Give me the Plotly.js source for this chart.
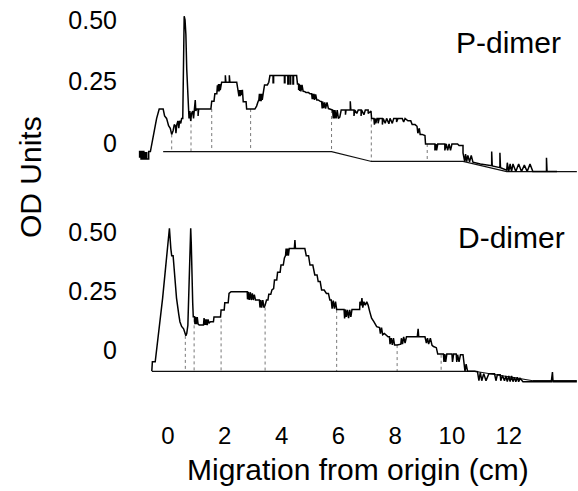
<!DOCTYPE html>
<html>
<head>
<meta charset="utf-8">
<script src="https://cdn.plot.ly/plotly-3.0.1.min.js"></script>
<style>html,body{margin:0;padding:0;background:#fff;}#chart{width:578px;height:491px;}</style>
</head>
<body>
<div id="chart"></div>
<script>
// ---------- DATA ----------
// x = migration from origin (cm), y = OD units
const pDimerTrace = [
 [-1.0,-0.06],[-1.0,-0.035],[-0.95,-0.035],[-0.95,-0.065],[-0.9,-0.065],[-0.9,-0.035],[-0.85,-0.035],[-0.85,-0.065],
 [-0.8,-0.065],[-0.8,-0.04],[-0.75,-0.04],[-0.75,-0.065],[-0.68,-0.065],[-0.68,-0.035],[-0.62,-0.035],
 [-0.57,0.0],[-0.45,0.07],[-0.40,0.10],[-0.33,0.13],[-0.31,0.138],[-0.17,0.138],[-0.12,0.11],[-0.05,0.10],
 [0.02,0.07],[0.08,0.06],[0.13,0.035],[0.18,0.05],[0.22,0.075],[0.26,0.07],[0.28,0.04],[0.31,0.075],[0.35,0.09],
 [0.38,0.06],[0.41,0.09],[0.45,0.08],[0.48,0.10],[0.52,0.10],[0.57,0.515],[0.60,0.50],[0.63,0.44],[0.66,0.30],
 [0.69,0.20],[0.72,0.16],[0.74,0.10],[0.77,0.13],[0.80,0.09],[0.83,0.12],[0.87,0.13],[0.90,0.10],[0.92,0.13],
 [0.96,0.175],[0.98,0.13],[1.01,0.138],[1.06,0.138],[1.06,0.11],[1.08,0.11],[1.08,0.138],[1.51,0.138],
 [1.54,0.17],[1.62,0.17],[1.65,0.20],[1.72,0.20],[1.74,0.235],[1.76,0.21],[1.78,0.24],[1.80,0.21],[1.82,0.24],
 [1.84,0.215],[1.86,0.24],[1.89,0.247],[2.02,0.247],[2.02,0.275],[2.04,0.275],[2.04,0.247],[2.16,0.247],
 [2.16,0.275],[2.18,0.275],[2.18,0.247],[2.42,0.247],[2.45,0.22],[2.48,0.216],[2.50,0.19],[2.52,0.215],
 [2.54,0.19],[2.57,0.215],[2.60,0.195],[2.62,0.216],[2.65,0.168],[2.75,0.168],[2.77,0.138],[3.06,0.138],
 [3.12,0.15],[3.17,0.168],[3.20,0.175],[3.22,0.20],[3.24,0.17],[3.26,0.20],[3.28,0.17],[3.30,0.20],[3.32,0.175],
 [3.35,0.20],[3.40,0.236],[3.50,0.236],[3.55,0.247],[3.59,0.274],[3.70,0.274],[3.70,0.245],[3.72,0.245],
 [3.72,0.274],[4.10,0.274],[4.10,0.245],[4.12,0.245],[4.12,0.274],[4.22,0.274],[4.22,0.24],[4.24,0.24],
 [4.24,0.274],[4.30,0.274],[4.30,0.24],[4.32,0.24],[4.32,0.274],[4.40,0.274],[4.40,0.24],[4.42,0.24],
 [4.42,0.274],[4.53,0.274],[4.56,0.24],[4.60,0.24],[4.60,0.215],[4.62,0.24],[4.64,0.212],[4.66,0.236],
 [4.68,0.21],[4.72,0.236],[4.76,0.21],[4.82,0.209],[4.86,0.205],[4.95,0.205],[5.0,0.20],[5.06,0.20],
 [5.08,0.178],[5.10,0.20],[5.12,0.178],[5.14,0.20],[5.16,0.175],[5.20,0.198],[5.24,0.175],[5.29,0.175],
 [5.35,0.17],[5.41,0.168],[5.43,0.14],[5.45,0.168],[5.48,0.142],[5.52,0.165],[5.55,0.14],[5.60,0.165],
 [5.65,0.14],[5.72,0.138],[5.76,0.134],[5.80,0.134],[5.82,0.10],[5.84,0.134],[5.86,0.10],[5.88,0.134],
 [5.92,0.10],[5.96,0.134],[6.00,0.10],[6.05,0.105],[6.10,0.134],[6.25,0.134],[6.25,0.115],[6.27,0.134],
 [6.42,0.134],[6.42,0.17],[6.44,0.134],[6.55,0.134],[6.55,0.11],[6.58,0.134],[6.65,0.12],[6.70,0.134],
 [6.80,0.134],[6.80,0.11],[6.82,0.134],[6.90,0.115],[6.95,0.134],[7.05,0.134],[7.05,0.12],[7.15,0.13],
 [7.17,0.10],[7.25,0.10],[7.27,0.075],[7.29,0.10],[7.32,0.08],[7.36,0.10],[7.40,0.10],[7.40,0.08],[7.44,0.10],
 [7.55,0.10],[7.55,0.075],[7.58,0.10],[7.65,0.08],[7.70,0.10],[7.78,0.078],[7.82,0.10],[7.90,0.08],[7.95,0.10],
 [8.05,0.10],[8.05,0.085],[8.10,0.10],[8.25,0.10],[8.30,0.085],[8.35,0.10],[8.45,0.09],[8.55,0.09],[8.60,0.075],
 [8.70,0.075],[8.77,0.068],[8.80,0.04],[8.85,0.06],[8.88,0.035],[8.95,0.035],[9.05,0.03],[9.07,-0.004],
 [9.40,-0.004],[9.40,-0.03],[9.44,-0.004],[9.46,-0.03],[9.50,-0.004],[9.75,-0.004],[9.75,-0.03],[9.80,-0.004],
 [9.85,-0.03],[9.90,-0.004],[9.95,-0.03],[10.0,-0.004],[10.2,-0.004],[10.25,-0.01],[10.39,-0.01],[10.39,-0.04],
 [10.45,-0.076],[10.48,-0.045],[10.52,-0.076],[10.56,-0.05],[10.62,-0.076],[10.68,-0.05],[10.74,-0.078],
 [11.0,-0.085],[11.40,-0.092],[11.40,-0.035],[11.42,-0.093],[11.69,-0.10],[11.69,-0.04],[11.71,-0.10],
 [11.93,-0.11],[11.95,-0.08],[12.0,-0.116],[12.05,-0.085],[12.1,-0.116],[12.15,-0.085],[12.25,-0.116],
 [12.35,-0.085],[12.45,-0.116],[12.55,-0.09],[12.65,-0.116],[12.75,-0.085],[12.85,-0.116],[12.98,-0.116],
 [13.33,-0.116],[13.33,-0.06],[13.35,-0.116],[13.7,-0.116]
];
const pDimerBaseline = [[-0.17,-0.035],[5.76,-0.035],[7.17,-0.075],[10.39,-0.075],[11.93,-0.116],[14.4,-0.116]];
// dividers: [x, top, bottom]
const pDimerDividers = [[0.13,0.035,-0.035],[0.81,0.10,-0.035],[1.54,0.138,-0.035],[2.91,0.138,-0.035],
 [5.76,0.134,-0.035],[7.16,0.10,-0.075],[9.13,-0.004,-0.075]];

const dDimerTrace = [
 [-0.57,-0.089],[-0.55,-0.05],[-0.45,-0.05],[-0.40,0.0],[-0.33,0.064],[-0.25,0.15],[-0.19,0.219],[-0.10,0.33],
 [-0.05,0.40],[0.05,0.516],[0.10,0.43],[0.13,0.40],[0.18,0.40],[0.22,0.33],[0.30,0.22],[0.38,0.15],[0.42,0.12],
 [0.48,0.10],[0.55,0.09],[0.63,0.061],[0.66,0.07],[0.70,0.105],[0.74,0.30],[0.76,0.445],[0.80,0.516],[0.82,0.45],
 [0.84,0.30],[0.87,0.20],[0.89,0.141],[0.93,0.141],[0.95,0.11],[0.97,0.141],[1.00,0.11],[1.03,0.14],[1.06,0.11],
 [1.10,0.106],[1.25,0.106],[1.27,0.135],[1.29,0.106],[1.31,0.13],[1.33,0.106],[1.35,0.13],[1.38,0.106],
 [1.41,0.13],[1.45,0.115],[1.50,0.12],[1.60,0.12],[1.62,0.14],[1.85,0.14],[1.87,0.17],[1.98,0.17],[2.0,0.20],
 [2.12,0.20],[2.15,0.24],[2.22,0.247],[2.79,0.247],[2.80,0.215],[2.83,0.247],[2.86,0.212],[2.90,0.245],
 [2.93,0.212],[2.97,0.24],[3.0,0.212],[3.04,0.235],[3.08,0.212],[3.22,0.212],[3.24,0.18],[3.27,0.212],
 [3.30,0.18],[3.34,0.212],[3.38,0.18],[3.42,0.19],[3.47,0.212],[3.52,0.212],[3.55,0.236],[3.62,0.236],
 [3.66,0.255],[3.72,0.26],[3.75,0.297],[3.83,0.297],[3.86,0.33],[3.95,0.33],[3.98,0.36],[4.06,0.36],
 [4.10,0.39],[4.14,0.40],[4.16,0.43],[4.18,0.40],[4.21,0.43],[4.24,0.40],[4.27,0.43],[4.45,0.43],[4.47,0.466],
 [4.49,0.43],[4.82,0.43],[4.87,0.40],[4.95,0.40],[5.0,0.36],[5.10,0.36],[5.17,0.318],[5.25,0.318],[5.29,0.29],
 [5.36,0.29],[5.41,0.254],[5.50,0.254],[5.58,0.24],[5.65,0.24],[5.70,0.212],[5.75,0.212],[5.78,0.175],
 [5.82,0.21],[5.86,0.175],[5.90,0.205],[5.94,0.172],[6.2,0.172],[6.22,0.134],[6.25,0.172],[6.28,0.14],
 [6.32,0.17],[6.36,0.135],[6.40,0.17],[6.44,0.14],[6.48,0.172],[6.75,0.172],[6.76,0.205],[6.80,0.19],
 [6.83,0.22],[6.86,0.18],[6.90,0.205],[6.95,0.19],[7.0,0.205],[7.05,0.19],[7.10,0.165],[7.17,0.135],
 [7.25,0.12],[7.35,0.099],[7.45,0.095],[7.48,0.07],[7.52,0.095],[7.56,0.065],[7.62,0.07],[7.75,0.056],
 [7.80,0.056],[7.82,0.025],[7.86,0.05],[7.90,0.022],[7.94,0.05],[7.98,0.021],[8.07,0.021],[8.20,0.025],
 [8.22,0.05],[8.26,0.025],[8.30,0.056],[8.35,0.03],[8.40,0.056],[8.78,0.056],[8.81,0.09],[8.83,0.056],
 [9.05,0.056],[9.10,0.03],[9.14,0.05],[9.18,0.025],[9.24,0.05],[9.30,0.02],[9.35,0.015],[9.45,0.01],
 [9.50,-0.017],[9.70,-0.017],[9.72,-0.05],[9.75,-0.017],[9.78,-0.05],[9.82,-0.017],[10.0,-0.017],[10.02,-0.05],
 [10.06,-0.017],[10.15,-0.017],[10.17,-0.05],[10.2,-0.02],[10.25,-0.05],[10.3,-0.02],[10.39,-0.02],[10.42,-0.06],
 [10.46,-0.09],[10.5,-0.06],[10.55,-0.09],[10.8,-0.09],[10.9,-0.092],[10.95,-0.13],[11.0,-0.095],[11.05,-0.13],
 [11.12,-0.10],[11.2,-0.13],[11.3,-0.10],[11.5,-0.10],[11.55,-0.13],[11.6,-0.105],[11.7,-0.105],[11.72,-0.13],
 [11.78,-0.108],[11.85,-0.13],[11.9,-0.11],[11.95,-0.134],[12.0,-0.11],[12.05,-0.134],[12.1,-0.11],[12.15,-0.134],
 [12.2,-0.115],[12.25,-0.134],[12.3,-0.115],[12.35,-0.134],[12.4,-0.12],[12.5,-0.134],[13.5,-0.134],
 [13.54,-0.093],[13.56,-0.134],[14.4,-0.134]
];
const dDimerBaseline = [[-0.57,-0.09],[10.8,-0.09],[12.85,-0.13],[14.4,-0.13]];
const dDimerDividers = [[0.61,0.06,-0.09],[0.92,0.13,-0.09],[1.87,0.13,-0.09],[3.42,0.18,-0.09],
 [5.94,0.17,-0.09],[8.07,0.021,-0.09],[9.62,-0.02,-0.09]];

const xTickVals = [0, 2, 4, 6, 8, 10, 12];
const yTickVals = [0, 0.25, 0.5];
const yTickText = ['0', '0.25', '0.50'];
const panelLabels = ['P-dimer', 'D-dimer'];
const xTitle = 'Migration from origin (cm)';
const yTitle = 'OD Units';

// ---------- BUILD ----------
const W = 578, H = 491;
const FONT = 'Liberation Sans, Arial, Helvetica, sans-serif';
const fx = px => px / W;
const fy = py => 1 - py / H;

function lineTrace(pts, yaxis, width, color, dash) {
  return {x: pts.map(p => p[0]), y: pts.map(p => p[1]), xaxis: 'x', yaxis: yaxis,
    type: 'scatter', mode: 'lines', hoverinfo: 'skip',
    line: {color: color, width: width, dash: dash || 'solid'}};
}
function dividerTrace(divs, yaxis) {
  const x = [], y = [];
  divs.forEach(d => { x.push(d[0], d[0], null); y.push(d[1], d[2], null); });
  return {x, y, xaxis: 'x', yaxis: yaxis, type: 'scatter', mode: 'lines', hoverinfo: 'skip',
    line: {color: '#555', width: 0.8, dash: 'dot'}};
}

const data = [
  dividerTrace(pDimerDividers, 'y'),
  lineTrace(pDimerBaseline, 'y', 1.2, '#111'),
  lineTrace(pDimerTrace, 'y', 1.5, '#000'),
  dividerTrace(dDimerDividers, 'y2'),
  lineTrace(dDimerBaseline, 'y2', 1.2, '#111'),
  lineTrace(dDimerTrace, 'y2', 1.5, '#000')
];

const yCommon = {tickvals: yTickVals, ticktext: yTickText, showgrid: false, zeroline: false,
  showline: false, ticks: '', ticklabelstandoff: 4, anchor: 'x',
  tickfont: {family: FONT, size: 25, color: '#000'}};

const layout = {
  width: W, height: H, margin: {l: 0, r: 0, t: 0, b: 0},
  paper_bgcolor: '#fff', plot_bgcolor: 'rgba(0,0,0,0)', showlegend: false,
  xaxis: {domain: [fx(122), 1], range: [-1.62, 14.44], anchor: 'free', position: fy(419),
    tickvals: xTickVals, showgrid: false, zeroline: false, showline: false, ticks: '',
    tickfont: {family: FONT, size: 24, color: '#000'}},
  yaxis: Object.assign({}, yCommon, {domain: [fy(175), fy(0.3)], range: [-0.13, 0.58]}),
  yaxis2: Object.assign({}, yCommon, {domain: [fy(387.8), fy(222.6)], range: [-0.16, 0.54]}),
  annotations: [
    {text: panelLabels[0], xref: 'paper', yref: 'paper', x: fx(508), y: fy(42), xanchor: 'center', yanchor: 'middle',
     showarrow: false, font: {family: FONT, size: 30, color: '#000'}},
    {text: panelLabels[1], xref: 'paper', yref: 'paper', x: fx(511), y: fy(238), xanchor: 'center', yanchor: 'middle',
     showarrow: false, font: {family: FONT, size: 30, color: '#000'}},
    {text: yTitle, xref: 'paper', yref: 'paper', x: fx(30), y: fy(177), xanchor: 'center', yanchor: 'middle',
     textangle: -90, showarrow: false, font: {family: FONT, size: 30, color: '#000'}},
    {text: xTitle, xref: 'paper', yref: 'paper', x: fx(358), y: fy(469), xanchor: 'center', yanchor: 'middle',
     showarrow: false, font: {family: FONT, size: 30, color: '#000'}}
  ]
};

Plotly.newPlot('chart', data, layout, {staticPlot: true, displayModeBar: false});
</script>
</body>
</html>
